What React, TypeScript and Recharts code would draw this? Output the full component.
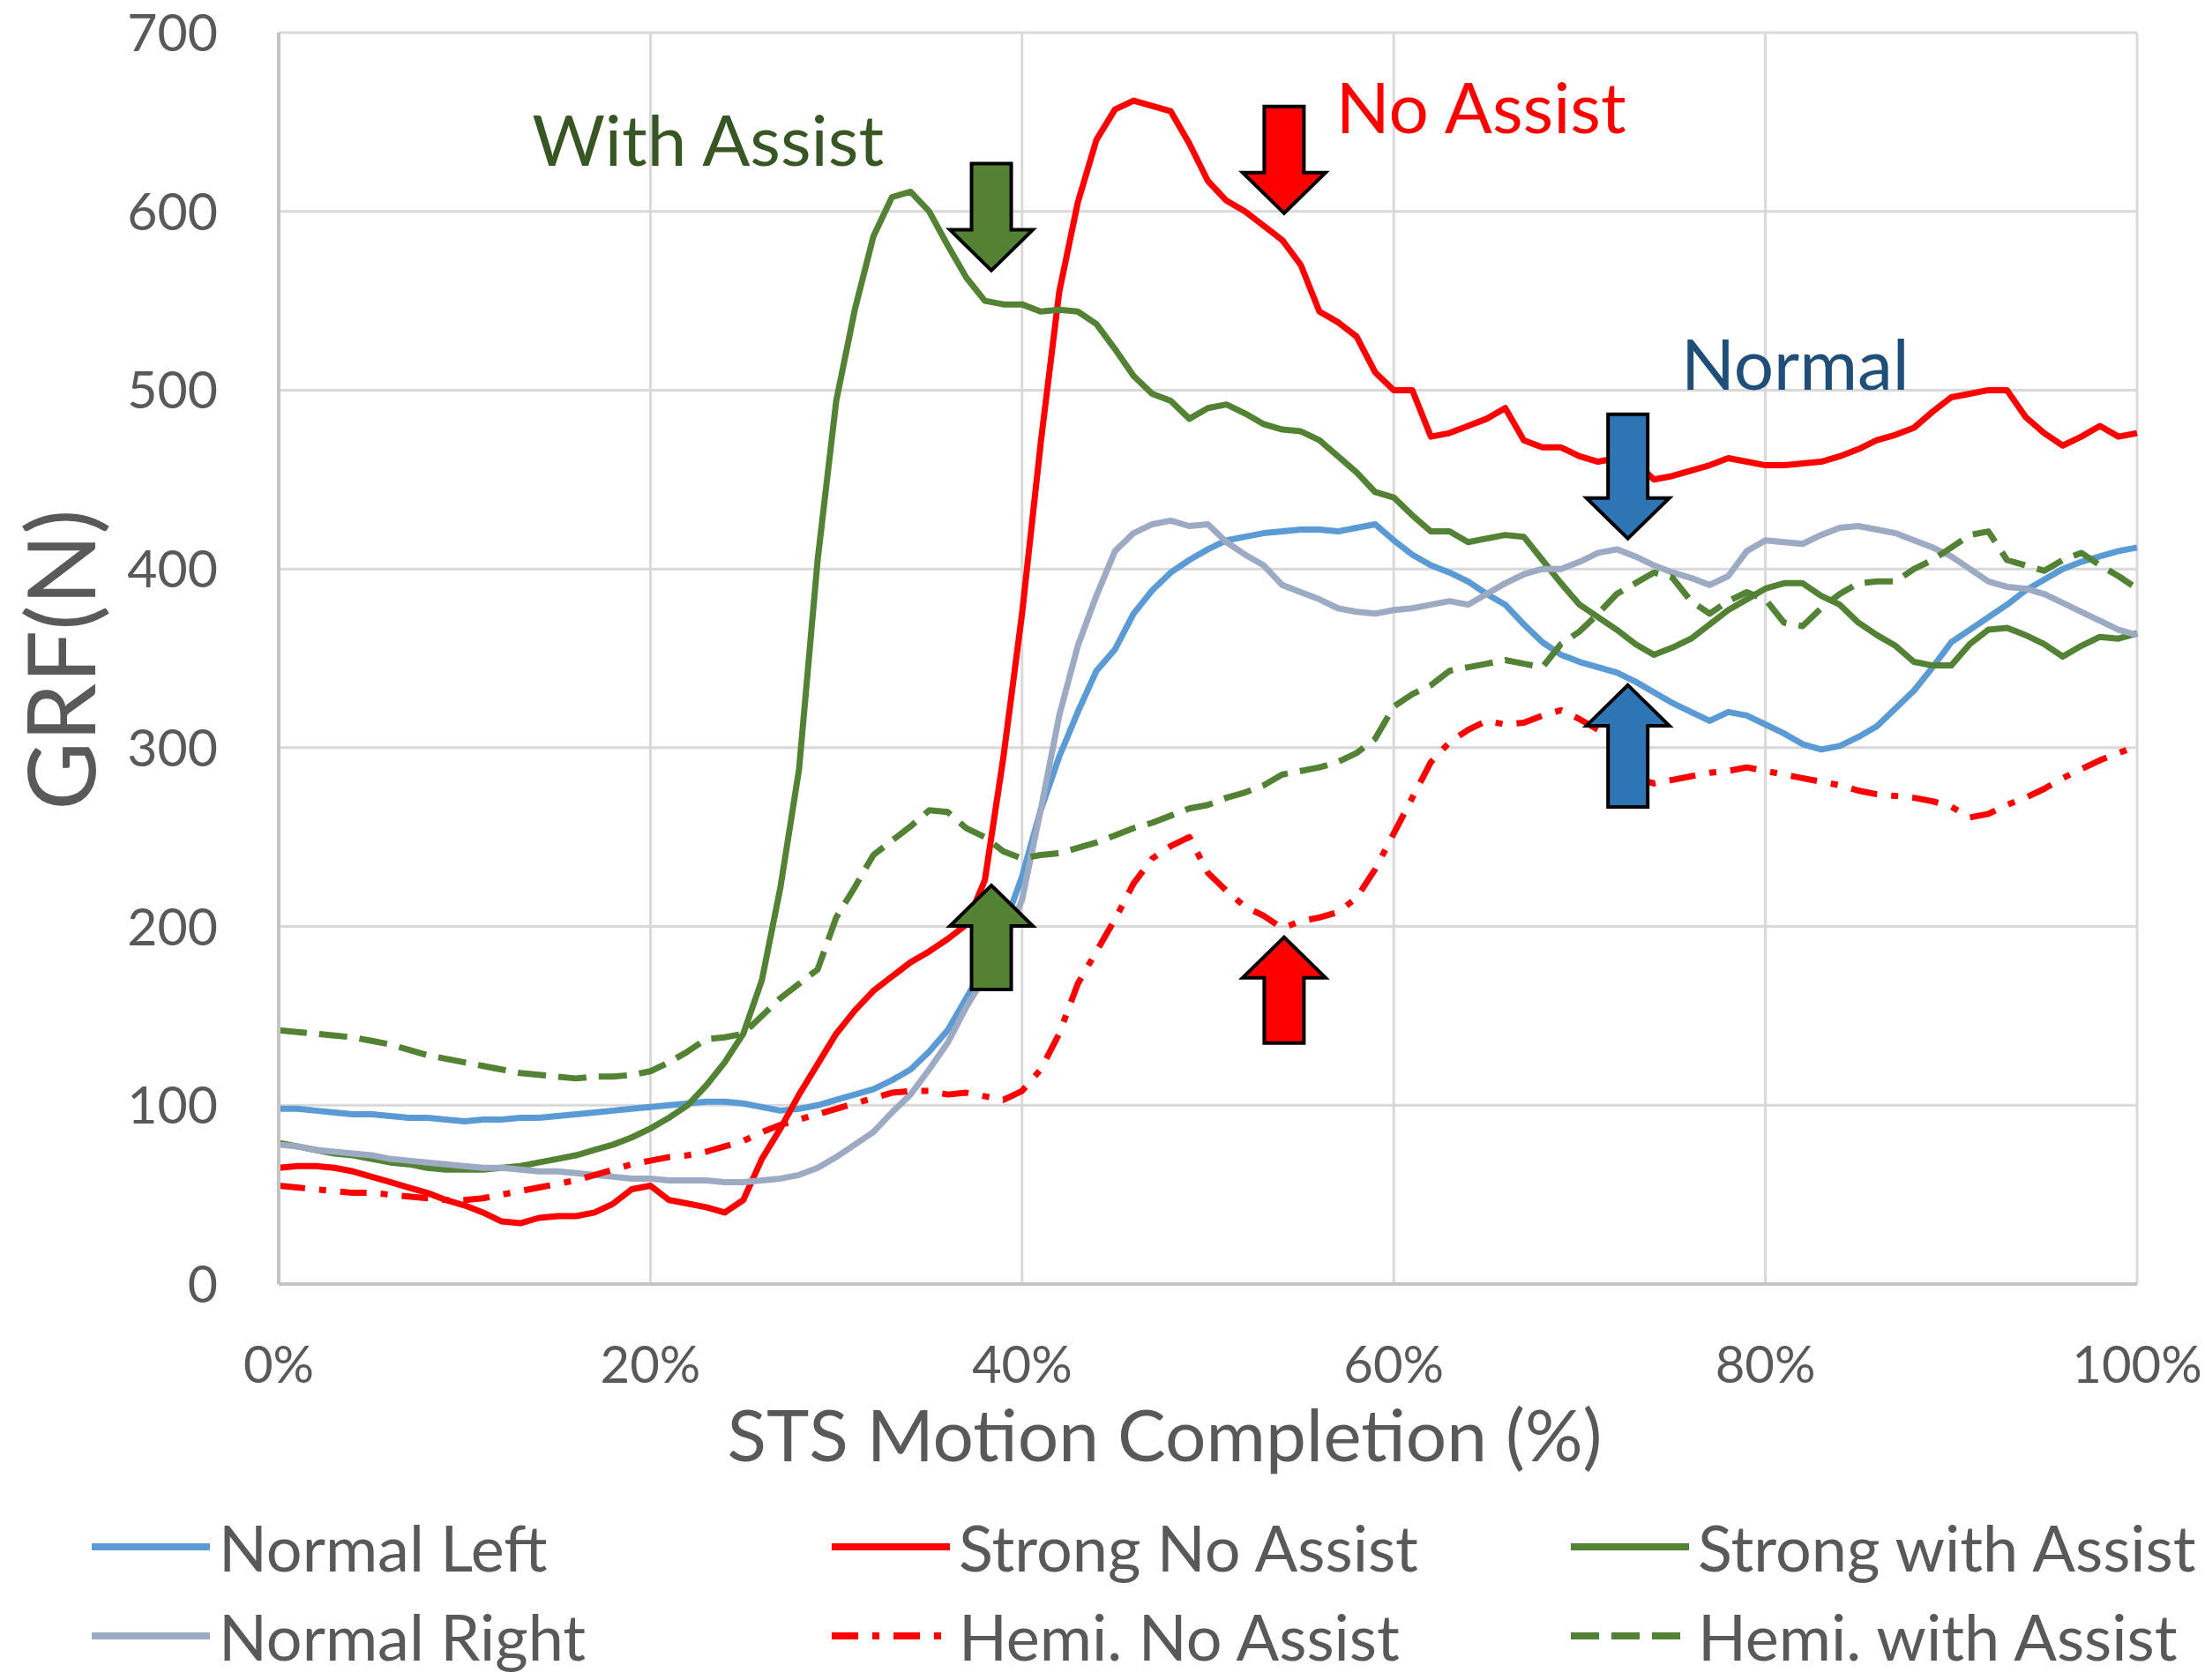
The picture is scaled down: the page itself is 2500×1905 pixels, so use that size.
import React from 'react';
import { LineChart, Line, XAxis, YAxis, CartesianGrid, ReferenceDot, Legend, Label } from 'recharts';

// STS motion completion, in percent
const pct = [
  0, 1, 2, 3, 4, 5, 6, 7, 8, 9, 10, 11, 12, 13, 14, 15, 16, 17, 18, 19, 20,
  21, 22, 23, 24, 25, 26, 27, 28, 29, 30, 31, 32, 33, 34, 35, 36, 37, 38, 39, 40,
  41, 42, 43, 44, 45, 46, 47, 48, 49, 50, 51, 52, 53, 54, 55, 56, 57, 58, 59, 60,
  61, 62, 63, 64, 65, 66, 67, 68, 69, 70, 71, 72, 73, 74, 75, 76, 77, 78, 79, 80,
  81, 82, 83, 84, 85, 86, 87, 88, 89, 90, 91, 92, 93, 94, 95, 96, 97, 98, 99, 100,
];

// GRF (N)
const normalLeft = [
  98, 98, 97, 96, 95, 95, 94, 93, 93, 92, 91, 92, 92, 93, 93, 94, 95, 96, 97, 98, 99,
  100, 101, 102, 102, 101, 99, 97, 98, 100, 103, 106, 109, 114, 120, 130, 142, 160, 178, 199, 228,
  265, 295, 320, 343, 355, 375, 388, 398, 405, 411, 416, 418, 420, 421, 422, 422, 421, 423, 425, 416,
  408, 402, 398, 393, 386, 380, 369, 359, 352, 348, 345, 342, 337, 331, 325, 320, 315, 320, 318, 313,
  308, 302, 299, 301, 306, 312, 322, 332, 345, 359, 366, 373, 380, 388, 394, 400, 404, 407, 410, 412,
];

const strongNoAssist = [
  65, 66, 66, 65, 63, 60, 57, 54, 51, 47, 44, 40, 35, 34, 37, 38, 38, 40, 45, 53, 55,
  47, 45, 43, 40, 47, 70, 87, 106, 123, 140, 153, 164, 172, 180, 186, 193, 201, 226, 295, 375,
  470, 555, 605, 640, 657, 662, 659, 656, 638, 617, 606, 600, 592, 584, 570, 544, 538, 530, 510, 500,
  500, 474, 476, 480, 484, 490, 472, 468, 468, 463, 460, 462, 460, 450, 452, 455, 458, 462, 460, 458,
  458, 459, 460, 463, 467, 472, 475, 479, 488, 496, 498, 500, 500, 485, 476, 469, 474, 480, 474, 476,
];

const strongWithAssist = [
  79, 77, 75, 73, 72, 70, 68, 67, 65, 64, 64, 64, 65, 66, 68, 70, 72, 75, 78, 82, 87,
  93, 100, 111, 124, 140, 170, 222, 288, 405, 494, 545, 586, 608, 611, 600, 581, 563, 550, 548, 548,
  544, 545, 544, 537, 523, 508, 498, 494, 484, 490, 492, 487, 481, 478, 477, 472, 463, 454, 443, 440,
  430, 421, 421, 415, 417, 419, 418, 405, 392, 380, 373, 366, 358, 352, 356, 361, 369, 377, 383, 389,
  392, 392, 385, 380, 370, 363, 357, 348, 346, 346, 358, 366, 367, 363, 358, 351, 357, 362, 361, 364,
];

const normalRight = [
  78, 77, 75, 74, 73, 72, 70, 69, 68, 67, 66, 65, 65, 64, 63, 63, 62, 61, 60, 59, 59,
  58, 58, 58, 57, 57, 58, 59, 61, 65, 71, 78, 85, 96, 106, 120, 135, 155, 172, 190, 215,
  265, 318, 357, 385, 410, 420, 425, 427, 424, 425, 415, 408, 402, 391, 387, 383, 378, 376, 375, 377,
  378, 380, 382, 380, 386, 392, 397, 400, 400, 404, 409, 411, 407, 402, 398, 395, 391, 396, 410, 416,
  415, 414, 419, 423, 424, 422, 420, 416, 412, 407, 400, 393, 390, 389, 386, 381, 376, 371, 366, 363,
];

const hemiNoAssist = [
  55, 54, 53, 52, 51, 51, 50, 49, 48, 47, 47, 48, 50, 52, 54, 56, 58, 61, 64, 67, 69,
  71, 72, 74, 77, 80, 85, 89, 92, 95, 98, 101, 104, 107, 108, 108, 106, 107, 105, 103, 108,
  120, 140, 168, 186, 204, 224, 238, 245, 250, 230, 220, 211, 206, 199, 203, 205, 208, 216, 232, 252,
  272, 292, 303, 310, 315, 313, 314, 318, 321, 316, 310, 300, 283, 280, 282, 284, 286, 287, 289, 287,
  285, 283, 281, 279, 276, 274, 273, 272, 270, 267, 261, 263, 268, 272, 277, 283, 288, 293, 297, 301,
];

const hemiWithAssist = [
  142, 141, 140, 139, 138, 136, 134, 131, 128, 126, 124, 122, 120, 118, 117, 116, 115, 116, 116, 117, 119,
  124, 130, 137, 138, 140, 150, 160, 168, 176, 205, 222, 240, 248, 256, 265, 264, 255, 250, 242, 238,
  240, 241, 244, 247, 251, 255, 258, 262, 266, 268, 272, 275, 279, 285, 287, 289, 292, 297, 305, 323,
  330, 335, 343, 345, 347, 349, 347, 345, 358, 365, 375, 386, 392, 398, 395, 382, 375, 382, 387, 383,
  370, 368, 378, 386, 392, 393, 393, 400, 405, 412, 419, 421, 405, 402, 399, 405, 409, 402, 396, 389,
];

const xTicks = [0, 20, 40, 60, 80, 100];
const yTicks = [0, 100, 200, 300, 400, 500, 600, 700];

const series = [
  { key: 'normalLeft', name: 'Normal Left', values: normalLeft, color: '#5B9BD5', dash: undefined },
  { key: 'strongNoAssist', name: 'Strong No Assist', values: strongNoAssist, color: '#FF0000', dash: undefined },
  { key: 'strongWithAssist', name: 'Strong with Assist', values: strongWithAssist, color: '#548235', dash: undefined },
  { key: 'normalRight', name: 'Normal Right', values: normalRight, color: '#9DAAC3', dash: undefined },
  { key: 'hemiNoAssist', name: 'Hemi. No Assist', values: hemiNoAssist, color: '#FF0000', dash: '30 16 8 16' },
  { key: 'hemiWithAssist', name: 'Hemi. with Assist', values: hemiWithAssist, color: '#548235', dash: '32 14' },
];

const data = pct.map((p, i) => {
  const row: Record<string, number> = { pct: p };
  series.forEach((s) => {
    row[s.key] = s.values[i];
  });
  return row;
});

// block arrows: tip position in data units
const arrows = [
  { x: 38.35, y: 567, dir: 'down', fill: '#548235', len: 121 },
  { x: 38.35, y: 223, dir: 'up', fill: '#548235', len: 118 },
  { x: 54.1, y: 599, dir: 'down', fill: '#FF0000', len: 121 },
  { x: 54.1, y: 194, dir: 'up', fill: '#FF0000', len: 120 },
  { x: 72.6, y: 417, dir: 'down', fill: '#2E75B6', len: 141 },
  { x: 72.6, y: 335, dir: 'up', fill: '#2E75B6', len: 138 },
];

const notes = [
  { x: 23.1, y: 625.5, text: 'With Assist', color: '#375623' },
  { x: 64.7, y: 643.8, text: 'No Assist', color: '#FF0000' },
  { x: 81.6, y: 500.2, text: 'Normal', color: '#1F4E79' },
];

const FONT = 'Lato, "Open Sans", sans-serif';
const GREY = '#595959';

function arrowShape(dir: string, fill: string, len: number) {
  return (props: any) => {
    const { cx, cy } = props;
    // body sits above the tip for a down arrow, below it for an up arrow
    const s = dir === 'down' ? 1 : -1;
    const hw = 47;
    const sw = 22.5;
    const hl = 46;
    const pts = [
      [cx, cy],
      [cx + hw, cy - s * hl],
      [cx + sw, cy - s * hl],
      [cx + sw, cy - s * len],
      [cx - sw, cy - s * len],
      [cx - sw, cy - s * hl],
      [cx - hw, cy - s * hl],
    ]
      .map((p) => p.join(','))
      .join(' ');
    return <polygon points={pts} fill={fill} stroke="#000" strokeWidth={4} strokeLinejoin="miter" />;
  };
}

function noteShape(text: string, color: string) {
  return (props: any) => (
    <text x={props.cx} y={props.cy} textAnchor="middle" fontFamily={FONT} fontSize={80} fill={color}>
      {text}
    </text>
  );
}

function LegendGrid() {
  const colX = [104, 943, 1781];
  const rowY = [1754, 1855];
  return (
    <div style={{ position: 'relative', width: 2500, height: 200 }}>
      {series.map((s, i) => {
        const col = i % 3;
        const row = Math.floor(i / 3);
        return (
          <div key={s.key} style={{ position: 'absolute', left: colX[col], top: rowY[row] - 1690 - 50, height: 100, display: 'flex', alignItems: 'center' }}>
            <svg width={134} height={20} style={{ display: 'block' }}>
              <line x1={0} y1={10} x2={134} y2={10} stroke={s.color} strokeWidth={8} strokeDasharray={s.dash} />
            </svg>
            <span style={{ fontFamily: FONT, fontSize: 72, color: GREY, marginLeft: 10, lineHeight: '100px', whiteSpace: 'nowrap' }}>{s.name}</span>
          </div>
        );
      })}
    </div>
  );
}

export default function App() {
  return (
    <div style={{ position: 'absolute', left: 0, top: 0, width: 2500, height: 1905, background: '#fff' }}>
      <LineChart width={2500} height={1905} data={data} margin={{ top: 37, right: 77, bottom: 349, left: 66 }}>
        <CartesianGrid stroke="#D9D9D9" strokeWidth={3} />
        <XAxis
          dataKey="pct"
          type="number"
          domain={[0, 100]}
          ticks={xTicks}
          tickFormatter={(v) => v + '%'}
          height={100}
          tickLine={false}
          tickSize={0}
          tickMargin={71}
          axisLine={{ stroke: '#C4C4C4', strokeWidth: 4 }}
          tick={{ fontFamily: FONT, fontSize: 58, fill: GREY }}
          interval={0}
        >
          <Label
            content={(p: any) => {
              const vb = p.viewBox;
              return (
                <text x={vb.x + vb.width / 2 - 49} y={1657} textAnchor="middle" fontFamily={FONT} fontSize={82} fill={GREY}>
                  STS Motion Completion (%)
                </text>
              );
            }}
          />
        </XAxis>
        <YAxis
          type="number"
          domain={[0, 700]}
          ticks={yTicks}
          width={250}
          tickLine={false}
          tickSize={0}
          tickMargin={69}
          axisLine={{ stroke: '#C4C4C4', strokeWidth: 4 }}
          tick={{ fontFamily: FONT, fontSize: 59, fill: GREY }}
          interval={0}
        >
          <Label
            content={() => (
              <text x={108} y={748} transform="rotate(-90, 108, 748)" textAnchor="middle" fontFamily={FONT} fontSize={106} fill={GREY}>
                GRF(N)
              </text>
            )}
          />
        </YAxis>
        {series.map((s) => (
          <Line
            key={s.key}
            type="linear"
            dataKey={s.key}
            name={s.name}
            stroke={s.color}
            strokeWidth={7}
            strokeDasharray={s.dash}
            strokeLinejoin="round"
            dot={false}
            activeDot={false}
            isAnimationActive={false}
          />
        ))}
        {arrows.map((a, i) => (
          <ReferenceDot key={'a' + i} x={a.x} y={a.y} r={0} shape={arrowShape(a.dir, a.fill, a.len)} />
        ))}
        {notes.map((n) => (
          <ReferenceDot key={n.text} x={n.x} y={n.y} r={0} shape={noteShape(n.text, n.color)} />
        ))}
        <Legend
          layout="horizontal"
          verticalAlign="middle"
          align="center"
          wrapperStyle={{ left: 0, top: 1690, width: 2500, height: 200 }}
          content={() => <LegendGrid />}
        />
      </LineChart>
    </div>
  );
}
